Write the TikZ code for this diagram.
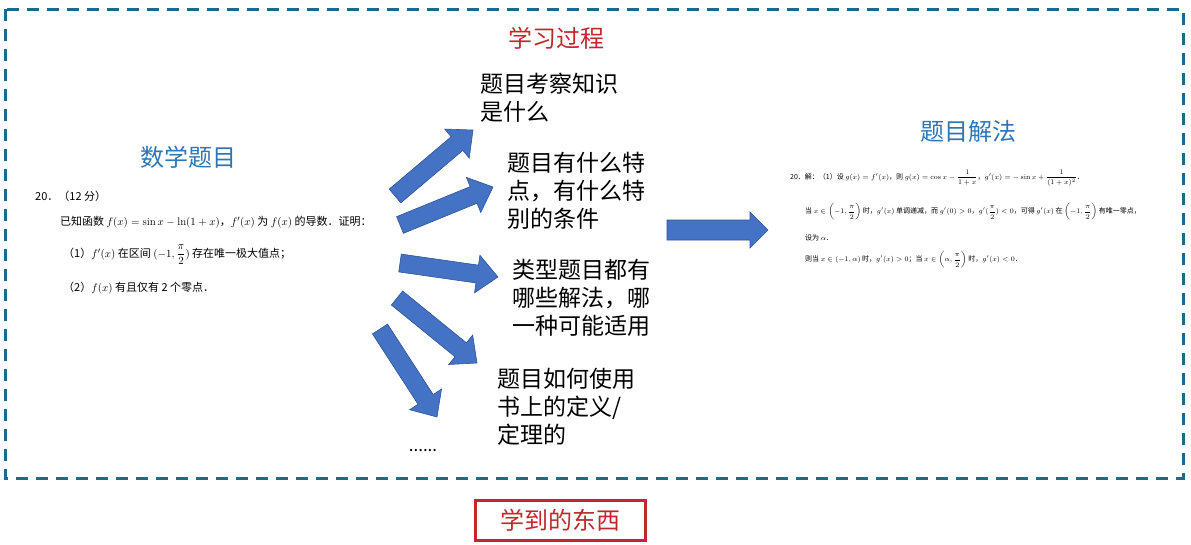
\documentclass[tikz,border=0pt]{standalone}
\usepackage{amsmath,amssymb}
\usepackage{fontspec}
\usepackage{tikz}
\usetikzlibrary{positioning,calc}
\newfontfamily\cjk{Noto Sans CJK SC}
\definecolor{frameblue}{HTML}{1F6A8C}
\definecolor{arrowblue}{HTML}{4472C4}
\definecolor{arrowedge}{HTML}{2F5597}
\definecolor{titlered}{HTML}{C0282D}
\definecolor{titleblue}{HTML}{2E75B6}

% block arrow: tail #1, tip #2, shaft half width #3, head half width #4, head length #5
\newcommand{\blockarrow}[5]{%
  \coordinate (#1#2h) at ($(#2)!#5!(#1)$);
  \filldraw[barrow] ($(#1)!#3!90:(#2)$) -- ($(#1#2h)!#3!90:(#2)$) -- ($(#1#2h)!#4!90:(#2)$)
    -- (#2) -- ($(#1#2h)!#4!-90:(#2)$) -- ($(#1#2h)!#3!-90:(#2)$) -- ($(#1)!#3!-90:(#2)$) -- cycle;
}

\begin{document}
\begin{tikzpicture}[x=1pt, y=-1pt,
  every node/.append style={font=\cjk, inner sep=0pt},
  title/.style={font=\cjk\fontsize{24}{24}\selectfont},
  lbl/.style={font=\cjk\fontsize{23}{28}\selectfont, align=left, anchor=west},
  prob/.style={font=\cjk\fontsize{11}{13}\selectfont, anchor=west},
  sol/.style={font=\cjk\fontsize{7}{8.5}\selectfont, anchor=west},
  barrow/.style={fill=arrowblue, draw=arrowedge, line width=0.6pt, line join=miter}
]
\useasboundingbox (0,0) rectangle (1191,544);

% frame
\draw[frameblue, line width=3pt, dash pattern=on 12pt off 8pt] (5,9) rectangle (1183,478);

% titles
\node[title, text=titlered] (proc) at (556,38) {学习过程};
\node[title, text=titleblue] (quest) at (188,157) {数学题目};
\node[title, text=titleblue] (meth) at (968,131) {题目解法};
\node[title, text=titlered, draw=titlered, line width=3pt, minimum width=170, minimum height=40]
  (learnt) at (560,520) {学到的东西};

% problem
\node[prob] (p0) at (35,196) {20．（12 分）};
\node[prob] (p1) at (60,222) {已知函数 $f(x)=\sin x-\ln(1+x)$，$f'(x)$ 为 $f(x)$ 的导数．证明：};
\node[prob] (p2) at (63,255) {（1）$f'(x)$ 在区间 $(-1,\dfrac{\pi}{2})$ 存在唯一极大值点；};
\node[prob] (p3) at (63,288) {（2）$f(x)$ 有且仅有 2 个零点．};

% solution
\node[sol] (s1) at (790,178) {20．解：（1）设 $g(x)=f'(x)$，则 $g(x)=\cos x-\dfrac{1}{1+x}$，$g'(x)=-\sin x+\dfrac{1}{(1+x)^2}$．};
\node[sol] (s2) at (805,212) {当 $x\in\left(-1,\dfrac{\pi}{2}\right)$ 时，$g'(x)$ 单调递减，而 $g'(0)>0$，$g'(\dfrac{\pi}{2})<0$，可得 $g'(x)$ 在 $\left(-1,\dfrac{\pi}{2}\right)$ 有唯一零点，};
\node[sol] (s3) at (805,238) {设为 $\alpha$．};
\node[sol] (s4) at (805,260) {则当 $x\in(-1,\alpha)$ 时，$g'(x)>0$；当 $x\in\left(\alpha,\dfrac{\pi}{2}\right)$ 时，$g'(x)<0$．};

% thinking steps
\node[lbl] (k1) at (480,98) {题目考察知识\\是什么};
\node[lbl] (k2) at (507,191) {题目有什么特\\点，有什么特\\别的条件};
\node[lbl] (k3) at (512,298) {类型题目都有\\哪些解法，哪\\一种可能适用};
\node[lbl] (k4) at (497,407) {题目如何使用\\书上的定义/\\定理的};
\node[font=\cjk\fontsize{17}{17}\selectfont] (more) at (423,451) {......};

% arrows
\foreach \i/\tx/\ty/\hx/\hy in {1/395/196/473/130, 2/400/225/493/187, 3/400/263/498/277,
                                4/397/298/477/363, 5/380/329/437/417} {
  \coordinate (t\i) at (\tx,\ty);
  \coordinate (h\i) at (\hx,\hy);
  \blockarrow{t\i}{h\i}{9pt}{19pt}{21pt}
}
\coordinate (bt) at (667,230);
\coordinate (bh) at (768,230);
\blockarrow{bt}{bh}{10pt}{18pt}{18pt}
\end{tikzpicture}
\end{document}
